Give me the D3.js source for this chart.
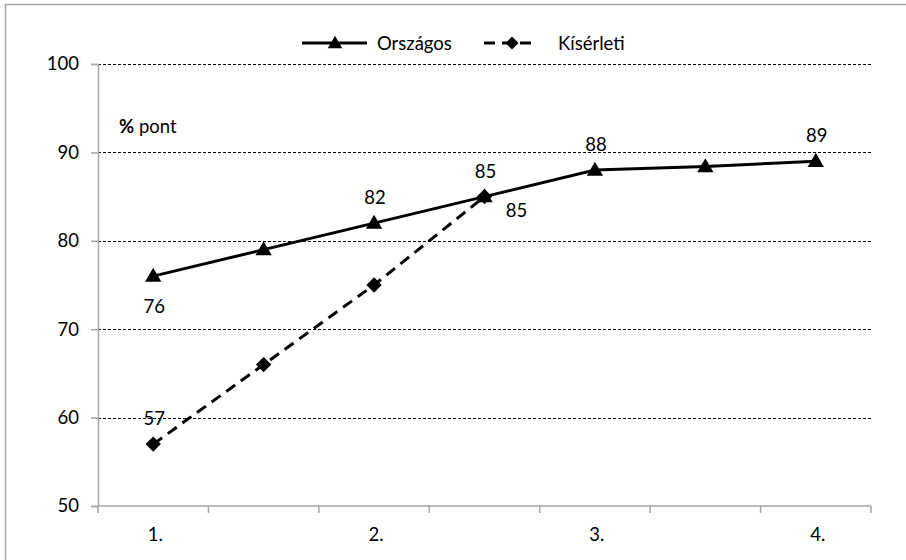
<!DOCTYPE html>
<html>
<head>
<meta charset="utf-8">
<script src="https://cdn.jsdelivr.net/npm/d3@7"></script>
<style>
  html, body { margin: 0; padding: 0; background: #fff; }
  svg { display: block; font-family: Lato, "Open Sans", sans-serif; }
</style>
</head>
<body>
<svg id="chart" width="906" height="560"></svg>
<script>
// Categories along the x axis (every other slot carries a label)
const categories = ["1.", "1.5", "2.", "2.5", "3.", "3.5", "4."];
const tickLabels = ["1.", "", "2.", "", "3.", "", "4."];
const yTicks = [50, 60, 70, 80, 90, 100];

// Series values
const orszagos = [76, 79, 82, 85, 88, 88.4, 89];
const kiserleti = [57, 66, 75, 85];

// Which points carry a value label, and where the label sits
const orszagosLabels = [
  { i: 0, pos: "below" }, { i: 2, pos: "above" }, { i: 3, pos: "above" },
  { i: 4, pos: "above" }, { i: 6, pos: "above" }
];
const kiserletiLabels = [
  { i: 0, pos: "above" }, { i: 3, pos: "right" }
];

const FS = 18.5;
const svg = d3.select("#chart");
const margin = { left: 98, right: 35, top: 64, bottom: 54 };
const W = 906, H = 560;

// Outer frame (extends past the bottom/right edges)
svg.append("rect")
  .attr("x", 5.5).attr("y", 4.5)
  .attr("width", 920).attr("height", 580)
  .attr("fill", "none").attr("stroke", "#a6a6a6").attr("stroke-width", 1.5);

const x = d3.scaleBand().domain(categories).range([margin.left, W - margin.right]);
const y = d3.scaleLinear().domain([50, 100]).range([H - margin.bottom, margin.top]);
const cx = d => x(d) + x.bandwidth() / 2;

// Dashed horizontal gridlines
svg.append("g").selectAll("line")
  .data(yTicks.filter(v => v > 50))
  .join("line")
  .attr("x1", margin.left).attr("x2", W - margin.right)
  .attr("y1", d => Math.round(y(d)) + 0.5).attr("y2", d => Math.round(y(d)) + 0.5)
  .attr("stroke", "#000").attr("stroke-width", 1)
  .attr("stroke-dasharray", "3,2");

// Y axis
const yAxis = svg.append("g")
  .attr("transform", `translate(${margin.left},0)`)
  .call(d3.axisLeft(y).tickValues(yTicks).tickSize(7).tickPadding(12));
yAxis.select(".domain").attr("stroke", "#a6a6a6").attr("stroke-width", 1.5);
yAxis.selectAll(".tick line").attr("stroke", "#a6a6a6").attr("stroke-width", 1.5);
yAxis.selectAll(".tick text").attr("font-size", FS).attr("fill", "#000")
  .attr("font-family", "Lato, 'Open Sans', sans-serif");

// X axis with ticks on category boundaries
const xg = svg.append("g").attr("transform", `translate(0,${y(50)})`);
xg.append("line")
  .attr("x1", margin.left).attr("x2", W - margin.right)
  .attr("stroke", "#a6a6a6").attr("stroke-width", 1.5);
const bounds = categories.map(c => x(c)).concat([W - margin.right]);
xg.selectAll("line.tk").data(bounds).join("line").attr("class", "tk")
  .attr("x1", d => d).attr("x2", d => d).attr("y1", 0).attr("y2", 7)
  .attr("stroke", "#a6a6a6").attr("stroke-width", 1.5);
xg.selectAll("text").data(categories).join("text")
  .attr("x", d => cx(d) + 2).attr("y", 35)
  .attr("text-anchor", "middle").attr("font-size", FS)
  .text((d, i) => tickLabels[i]);

// "% pont" unit label
const unit = svg.append("text").attr("x", 119).attr("y", 133).attr("font-size", FS);
unit.append("tspan").attr("font-weight", "bold").text("%");
unit.append("tspan").text(" pont");

const line = d3.line().x((d, i) => cx(categories[i])).y(d => y(d));

// Kísérleti series (dashed with diamonds)
svg.append("path").datum(kiserleti)
  .attr("d", line).attr("fill", "none")
  .attr("stroke", "#000").attr("stroke-width", 3)
  .attr("stroke-dasharray", "11,7");
svg.append("g").selectAll("path").data(kiserleti).join("path")
  .attr("d", d3.symbol(d3.symbolDiamond2, 150))
  .attr("transform", (d, i) => `translate(${cx(categories[i])},${y(d)})`)
  .attr("fill", "#000");

// Országos series (solid with triangles)
svg.append("path").datum(orszagos)
  .attr("d", line).attr("fill", "none")
  .attr("stroke", "#000").attr("stroke-width", 3);
svg.append("g").selectAll("path").data(orszagos).join("path")
  .attr("d", d3.symbol(d3.symbolTriangle, 115))
  .attr("transform", (d, i) => `translate(${cx(categories[i])},${y(d) + 1})`)
  .attr("fill", "#000");

// Value labels
function drawLabels(series, labels) {
  svg.append("g").selectAll("text").data(labels).join("text")
    .attr("x", d => cx(categories[d.i]) + (d.pos === "right" ? 32 : 1))
    .attr("y", d => y(series[d.i]) + (d.pos === "above" ? -19 : d.pos === "below" ? 37 : 20))
    .attr("text-anchor", "middle").attr("font-size", FS)
    .text(d => Math.round(series[d.i]));
}
drawLabels(orszagos, orszagosLabels);
drawLabels(kiserleti, kiserletiLabels);

// Legend
const lg = svg.append("g").attr("transform", "translate(0,43)");
lg.append("line").attr("x1", 302).attr("x2", 367).attr("stroke", "#000").attr("stroke-width", 3);
lg.append("path").attr("d", d3.symbol(d3.symbolTriangle, 90)).attr("transform", "translate(335,1)");
lg.append("text").attr("x", 377).attr("y", 7).attr("font-size", FS).text("Országos");
lg.append("line").attr("x1", 484).attr("x2", 537).attr("stroke", "#000").attr("stroke-width", 3)
  .attr("stroke-dasharray", "11,7");
lg.append("path").attr("d", d3.symbol(d3.symbolDiamond2, 110)).attr("transform", "translate(512,0)");
lg.append("text").attr("x", 558).attr("y", 7).attr("font-size", FS).text("Kísérleti");
</script>
</body>
</html>
